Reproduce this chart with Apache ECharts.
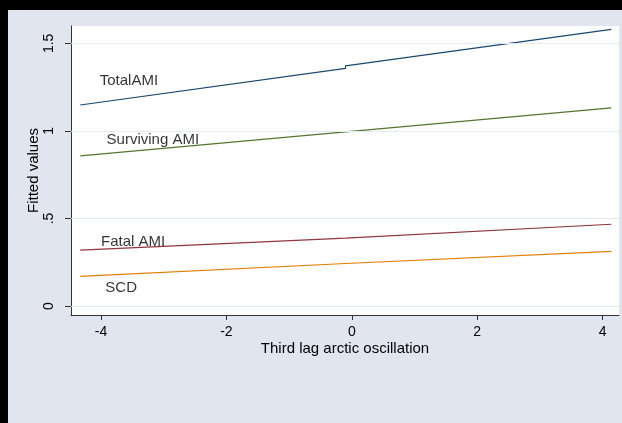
<!DOCTYPE html>
<html>
<head>
<meta charset="utf-8">
<script src="https://cdn.jsdelivr.net/npm/echarts@6/dist/echarts.min.js"></script>
<style>
  html, body { margin: 0; padding: 0; background: #000; width: 622px; height: 423px; overflow: hidden; }
  #chart { position: absolute; left: 8px; top: 10px; width: 614px; height: 413px; }
</style>
</head>
<body>
<div id="chart"></div>
<script>
// Fitted values against the third lag of the arctic oscillation index
const xFit      = [-4.33, -0.10, -0.10, 4.14];
const totalAMI  = [1.148, 1.357, 1.371, 1.580];
const survAMI   = [0.857, 0.995, 1.000, 1.131];
const fatalAMI  = [0.319, 0.388, 0.392, 0.467];
const scd       = [0.169, 0.243, 0.243, 0.312];

const xTicks      = [-4, -2, 0, 2, 4];
const xTickLabels = ['-4', '-2', '0', '2', '4'];
const yTicks      = [0, 0.5, 1, 1.5];
const yTickLabels = ['0', '.5', '1', '1.5'];

// text placed at data coordinates: [x, y, text]
const notes = [
  [-4.02, 1.287, 'TotalAMI'],
  [-3.91, 0.948, 'Surviving AMI'],
  [-4.00, 0.366, 'Fatal AMI'],
  [-3.93, 0.106, 'SCD']
];

const FONT = '"Liberation Sans", Arial, sans-serif';
const pair = (xs, ys) => xs.map((x, i) => [x, ys[i]]);
const lookup = (vals, labels) => v => {
  const i = vals.findIndex(t => Math.abs(t - v) < 1e-9);
  return i >= 0 ? labels[i] : '';
};

const fitLine = (name, ys, color) => ({
  name, type: 'line', data: pair(xFit, ys),
  symbol: 'none', silent: true,
  lineStyle: { color, width: 1.2 }
});

const chart = echarts.init(document.getElementById('chart'), null, { renderer: 'canvas' });
chart.setOption({
  backgroundColor: '#e0e5f0',
  animation: false,
  grid: {
    left: 63, right: 3, top: 16, bottom: 108,
    show: true, backgroundColor: '#ffffff', borderWidth: 0
  },
  xAxis: {
    type: 'value', min: -4.478, max: 4.262,
    name: 'Third lag arctic oscillation', nameLocation: 'middle', nameGap: 26,
    nameMoveOverlap: false,
    nameTextStyle: { color: '#000', fontFamily: FONT, fontSize: 15 },
    axisLine: { show: true, onZero: false, lineStyle: { color: '#333', width: 1 } },
    axisTick: { show: true, inside: false, length: 5, customValues: xTicks, lineStyle: { color: '#333' } },
    axisLabel: { customValues: xTicks, formatter: lookup(xTicks, xTickLabels), margin: 10,
                 color: '#000', fontFamily: FONT, fontSize: 14 },
    splitLine: { show: false }
  },
  yAxis: {
    type: 'value', min: -0.051, max: 1.599,
    name: 'Fitted values', nameLocation: 'middle', nameGap: 30,
    nameMoveOverlap: false,
    nameTextStyle: { color: '#000', fontFamily: FONT, fontSize: 15 },
    axisLine: { show: true, onZero: false, lineStyle: { color: '#333', width: 1 } },
    axisTick: { show: true, inside: false, length: 6, customValues: yTicks, lineStyle: { color: '#333' } },
    axisLabel: { customValues: yTicks, formatter: lookup(yTicks, yTickLabels), rotate: 90, margin: 15,
                 color: '#000', fontFamily: FONT, fontSize: 14 },
    splitLine: { show: false }
  },
  series: [
    {
      type: 'line', data: [], silent: true,
      markLine: {
        silent: true, symbol: 'none', label: { show: false },
        lineStyle: { color: '#e4e8f1', width: 1, type: 'solid' },
        data: yTicks.map(v => ({ yAxis: v }))
      }
    },
    fitLine('TotalAMI', totalAMI, '#1a476f'),
    fitLine('Surviving AMI', survAMI, '#55752f'),
    fitLine('Fatal AMI', fatalAMI, '#90353b'),
    fitLine('SCD', scd, '#e37e00'),
    {
      type: 'scatter', silent: true, symbolSize: 0,
      data: notes.map(n => ({ value: [n[0], n[1]], name: n[2] })),
      label: {
        show: true, position: 'right', distance: 0,
        formatter: p => p.name,
        color: '#000', fontFamily: FONT, fontSize: 15
      },
      z: 5
    }
  ]
});
</script>
</body>
</html>
